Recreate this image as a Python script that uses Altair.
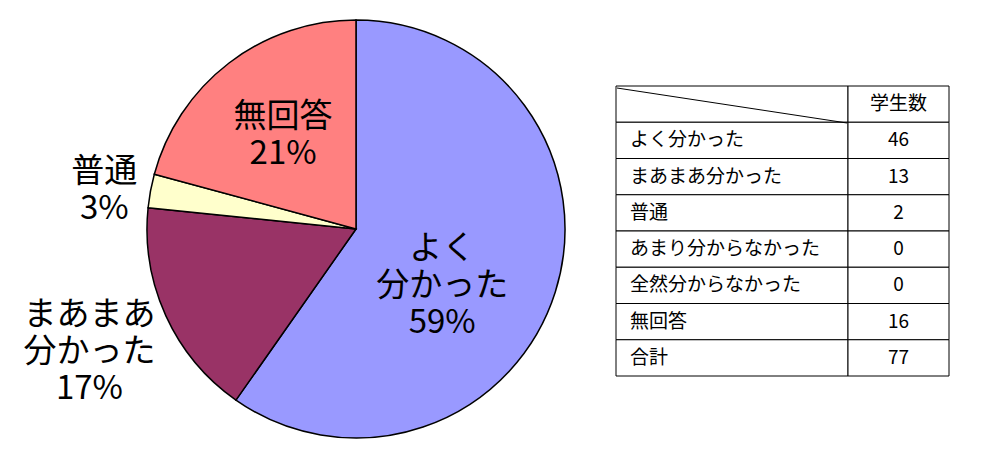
import altair as alt
import pandas as pd

# ---- data ----
categories = ["よく分かった", "まあまあ分かった", "普通", "あまり分からなかった", "全然分からなかった", "無回答"]
counts = [46, 13, 2, 0, 0, 16]
pie_names = ["よく\n分かった", "まあまあ\n分かった", "普通", "あまり分からなかった", "全然分からなかった", "無回答"]
pie_pcts = ["59%", "17%", "3%", "0%", "0%", "21%"]
slice_colors = ["#9999FF", "#993366", "#FFFFCC", "#CCFFFF", "#660066", "#FF8080"]
header_label = "学生数"
total_label = "合計"
total_count = 77

# ---- layout (styles) ----
FONT = "Noto Sans CJK JP"
W, H = 967, 443
CX, CY, R = 348, 221, 209
LH = 37
LABEL_POS = {  # radius, dx, dy (dy for block centre)
    "よく分かった": (104, -13, 26),
    "まあまあ分かった": (293, 0, 1),
    "普通": (256, 0, 8),
    "無回答": (120, 0, 2),
}
TX0, TX1, TX2 = 608, 840, 941
TY0, TY1 = 78, 368

pie_df = pd.DataFrame({
    "cat": categories, "count": counts, "name": pie_names,
    "pct": pie_pcts, "color": slice_colors, "idx": list(range(len(categories))),
})
pie_df = pie_df[pie_df["count"] > 0].copy()
pie_df["cum"] = pie_df["count"].cumsum()
pie_df["mid"] = pie_df["cum"] - pie_df["count"] / 2
pie_df["text"] = pie_df["name"] + "\n" + pie_df["pct"]

theta_scale = alt.Scale(domain=[0, int(pie_df["count"].sum())])

base = alt.Chart(pie_df)
arcs = base.mark_arc(radius=R, stroke="black", strokeWidth=1.5).encode(
    theta=alt.Theta("count:Q", stack=True, scale=theta_scale),
    color=alt.Color("cat:N", scale=alt.Scale(domain=list(pie_df["cat"]), range=list(pie_df["color"])), legend=None),
    order=alt.Order("idx:Q"),
    x=alt.value(CX),
    y=alt.value(CY),
)

label_layers = []
for cat, (r, dx, dy) in LABEL_POS.items():
    txt = pie_df.loc[pie_df["cat"] == cat, "text"].iloc[0]
    nlines = txt.count("\n") + 1
    label_layers.append(
        base.transform_filter(alt.datum.cat == cat).mark_text(
            radius=r, dx=dx, dy=dy - (nlines - 1) * LH / 2, fontSize=33, lineHeight=LH, lineBreak="\n",
            font=FONT, align="center", baseline="middle", color="black",
        ).encode(
            theta=alt.Theta("mid:Q", scale=theta_scale),
            text="text:N",
            x=alt.value(CX),
            y=alt.value(CY),
        )
    )

# ---- table ----
table_names = [""] + categories + [total_label]
table_vals = [header_label] + [str(c) for c in counts] + [str(total_count)]
tdf = pd.DataFrame({"row": list(range(len(table_names))), "name": table_names, "val": table_vals})
yscale = alt.Scale(domain=list(range(len(table_names))), range=[TY0, TY1], paddingInner=0, paddingOuter=0)
ty = alt.Y("row:O", scale=yscale, axis=None)

tbase = alt.Chart(tdf)
cells1 = tbase.mark_rect(fill="white", stroke="black", strokeWidth=1).encode(
    y=ty, x=alt.value(TX0), x2=alt.value(TX1))
cells2 = tbase.mark_rect(fill="white", stroke="black", strokeWidth=1).encode(
    y=ty, x=alt.value(TX1), x2=alt.value(TX2))
names = tbase.mark_text(align="left", baseline="middle", fontSize=19, font=FONT, color="black").encode(
    y=ty, x=alt.value(622), text="name:N")
vals = tbase.mark_text(align="center", baseline="middle", fontSize=19, font=FONT, color="black").encode(
    y=ty, x=alt.value((TX1 + TX2) / 2), text="val:N")
diag = tbase.transform_filter(alt.datum.row == 0).mark_rule(stroke="black", strokeWidth=1).encode(
    x=alt.value(TX0 + 1), x2=alt.value(TX1 - 1), y=alt.value(TY0 + 2), y2=alt.value(TY0 + 37))

chart = alt.layer(arcs, *label_layers, cells1, cells2, names, vals, diag).properties(
    width=W, height=H, padding=0, background="white"
).configure_view(stroke=None)

chart.save("out.html", embed_options={"renderer": "svg", "actions": False})
